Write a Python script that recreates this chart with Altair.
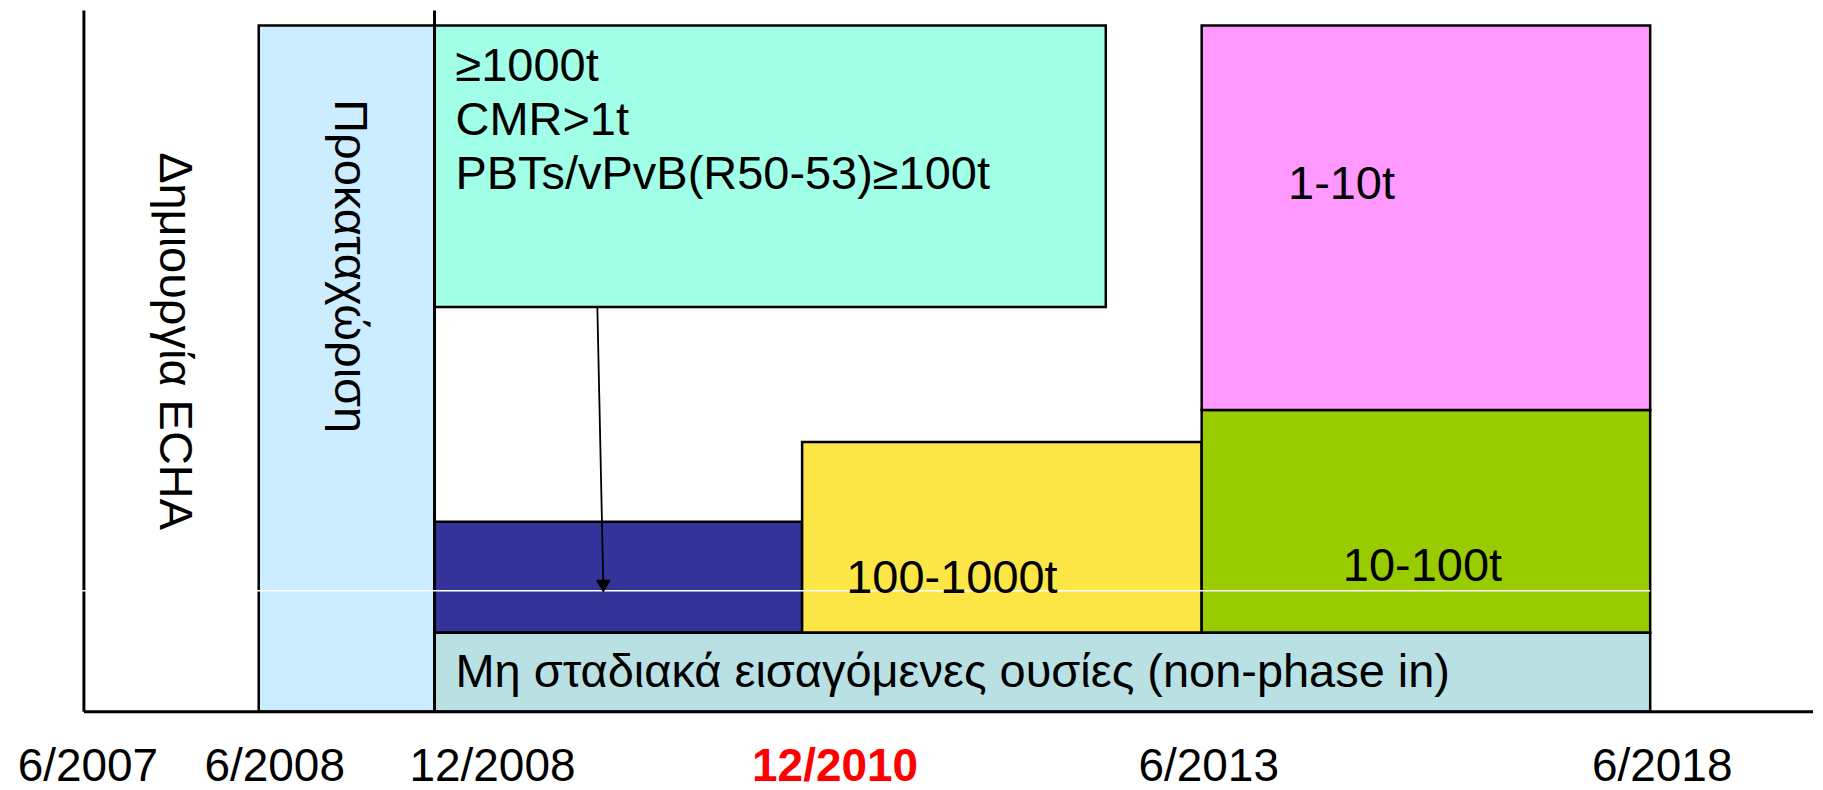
import altair as alt
import pandas as pd

W, H = 1807, 782
FONT = "Liberation Sans"
FS = 47
TICK_FS = 46

# schematic timeline units (x) and height units (y); origin at axis corner
x_domain = [-76, 1731]
y_domain = [-79, 703]

# boxes of the registration timeline
box_names = ["Προκαταχώριση", "≥1000t", "early", "100-1000t", "10-100t", "1-10t", "non-phase in"]
box_x0 = [175, 351, 351, 719, 1119, 1119, 351]
box_x1 = [351, 1023, 719, 1119, 1568, 1568, 1568]
box_y0 = [0, 405, 79, 79, 79, 302, 0]
box_y1 = [687, 687, 190, 270, 302, 687, 79]
box_fill = ["#CCECFF", "#A0FFE6", "#333399", "#FCE646", "#99CC00", "#FF99FF", "#B9E0E3"]

# horizontal texts
left_texts = ["≥1000t", "CMR>1t", "PBTs/vPvB(R50-53)≥100t",
              "Μη σταδιακά εισαγόμενες ουσίες (non-phase in)"]
left_x = [372, 372, 372, 372]
left_y = [645, 591, 537, 39]

center_texts = ["1-10t", "100-1000t", "10-100t"]
center_x = [1259, 869, 1340]
center_y = [527, 133, 145]

# rotated texts
rot_texts = ["Δημιουργία ECHA", "Προκαταχώριση"]
rot_x = [90, 265]
rot_y = [371, 446]

# date labels
tick_labels = ["6/2007", "6/2008", "12/2008", "12/2010", "6/2013", "6/2018"]
tick_x = [4, 191, 409, 752, 1126, 1580]
tick_y = [-55, -55, -55, -55, -55, -55]
tick_highlight = [False, False, False, True, False, False]

# arrow from the ≥1000t box down into the early box
arrow_x = [514]
arrow_x2 = [520]
arrow_y = [405]
arrow_y2 = [126]
arrow_head_x = [520]
arrow_head_y = [125.5]

xs = alt.Scale(domain=x_domain, nice=False, zero=False)
ys = alt.Scale(domain=y_domain, nice=False, zero=False)

boxes = pd.DataFrame({"name": box_names, "x0": box_x0, "x1": box_x1,
                      "y0": box_y0, "y1": box_y1, "fill": box_fill})
rects = alt.Chart(boxes).mark_rect(stroke="black", strokeWidth=2.5).encode(
    x=alt.X("x0:Q", scale=xs, axis=None), x2="x1:Q",
    y=alt.Y("y0:Q", scale=ys, axis=None), y2="y1:Q",
    fill=alt.Fill("fill:N", scale=None),
)

lines_df = pd.DataFrame({
    "x0": [0, 0, 351],
    "x1": [0, 1731, 351],
    "y0": [0, 0, 0],
    "y1": [702, 0, 702],
})
axes_lines = alt.Chart(lines_df).mark_rule(color="black", strokeWidth=3).encode(
    x=alt.X("x0:Q", scale=xs, axis=None), x2="x1:Q",
    y=alt.Y("y0:Q", scale=ys, axis=None), y2="y1:Q",
)

white_df = pd.DataFrame({"x0": [-3], "x1": [1568], "y": [121]})
white_line = alt.Chart(white_df).mark_rule(color="white", strokeWidth=1.5).encode(
    x=alt.X("x0:Q", scale=xs, axis=None), x2="x1:Q",
    y=alt.Y("y:Q", scale=ys, axis=None),
)

arrow_df = pd.DataFrame({"x0": arrow_x, "x1": arrow_x2, "y0": arrow_y, "y1": arrow_y2})
arrow_line = alt.Chart(arrow_df).mark_rule(color="black", strokeWidth=1.8).encode(
    x=alt.X("x0:Q", scale=xs, axis=None), x2="x1:Q",
    y=alt.Y("y0:Q", scale=ys, axis=None), y2="y1:Q",
)
head_df = pd.DataFrame({"x": arrow_head_x, "y": arrow_head_y})
arrow_head = alt.Chart(head_df).mark_point(
    shape="triangle-down", size=225, filled=True, color="black", opacity=1
).encode(
    x=alt.X("x:Q", scale=xs, axis=None),
    y=alt.Y("y:Q", scale=ys, axis=None),
)

left_df = pd.DataFrame({"t": left_texts, "x": left_x, "y": left_y})
left_txt = alt.Chart(left_df).mark_text(
    align="left", baseline="middle", font=FONT, fontSize=FS, color="black"
).encode(x=alt.X("x:Q", scale=xs, axis=None), y=alt.Y("y:Q", scale=ys, axis=None), text="t:N")

center_df = pd.DataFrame({"t": center_texts, "x": center_x, "y": center_y})
center_txt = alt.Chart(center_df).mark_text(
    align="center", baseline="middle", font=FONT, fontSize=FS, color="black"
).encode(x=alt.X("x:Q", scale=xs, axis=None), y=alt.Y("y:Q", scale=ys, axis=None), text="t:N")

rot_df = pd.DataFrame({"t": rot_texts, "x": rot_x, "y": rot_y})
rot_txt = alt.Chart(rot_df).mark_text(
    align="center", baseline="middle", font=FONT, fontSize=FS, color="black", angle=90
).encode(x=alt.X("x:Q", scale=xs, axis=None), y=alt.Y("y:Q", scale=ys, axis=None), text="t:N")

ticks = pd.DataFrame({"t": tick_labels, "x": tick_x, "y": tick_y, "hl": tick_highlight})
tick_normal = alt.Chart(ticks[~ticks["hl"]]).mark_text(
    align="center", baseline="middle", font=FONT, fontSize=TICK_FS, color="black"
).encode(x=alt.X("x:Q", scale=xs, axis=None), y=alt.Y("y:Q", scale=ys, axis=None), text="t:N")
tick_red = alt.Chart(ticks[ticks["hl"]]).mark_text(
    align="center", baseline="middle", font=FONT, fontSize=TICK_FS, color="#FF0000", fontWeight="bold"
).encode(x=alt.X("x:Q", scale=xs, axis=None), y=alt.Y("y:Q", scale=ys, axis=None), text="t:N")

chart = alt.layer(
    rects, axes_lines, white_line, arrow_line, arrow_head,
    left_txt, center_txt, rot_txt, tick_normal, tick_red
).properties(width=W, height=H, padding=0, background="white").configure_view(stroke=None)

chart.save("out.html", embed_options={"renderer": "svg", "actions": False})
